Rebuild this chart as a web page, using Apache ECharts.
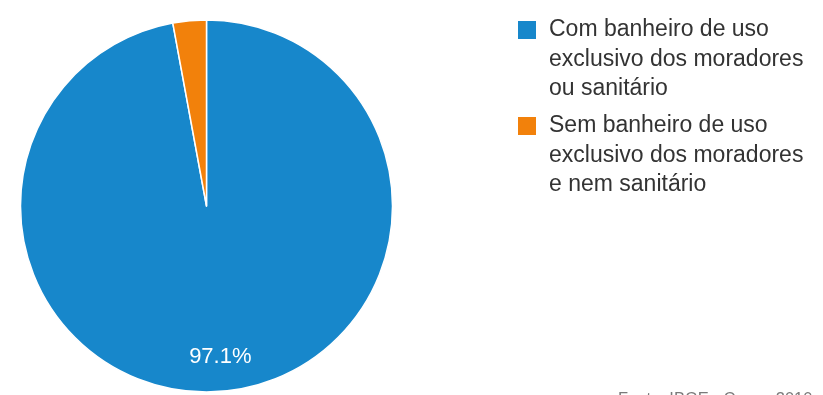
<!DOCTYPE html>
<html>
<head>
<meta charset="utf-8">
<script src="https://cdn.jsdelivr.net/npm/echarts@6/dist/echarts.min.js"></script>
<style>
  html, body { margin: 0; padding: 0; background: #ffffff; }
  #chart { width: 823px; height: 395px; }
</style>
</head>
<body>
<div id="chart"></div>
<script>
// Domicílios por existência de banheiro (percentual)
const categories = [
  'Com banheiro de uso exclusivo dos moradores ou sanitário',
  'Sem banheiro de uso exclusivo dos moradores e nem sanitário'
];
const shares = [97.1, 2.9];
const legendLines = [
  ['Com banheiro de uso', 'exclusivo dos moradores', 'ou sanitário'],
  ['Sem banheiro de uso', 'exclusivo dos moradores', 'e nem sanitário']
];
const colors = ['#1787cb', '#f2810b'];
const sourceNote = 'Fonte: IBGE - Censo 2010';

const FONT = '"Liberation Sans", Arial, sans-serif';
const pieData = categories.map((name, i) => ({ name, value: shares[i] }));

// Legend text is vertically centred on its swatch; two leading blank lines
// make the first text line sit level with the swatch.
const LEG_FONT = 23, LEG_LH = 29.5, ICON = 20;
function legendFor(i, iconTop) {
  return {
    data: [categories[i]],
    left: 516,
    top: iconTop + ICON / 2 - 2.5 * LEG_LH,
    padding: 0,
    icon: 'rect',
    itemWidth: ICON,
    itemHeight: ICON,
    selectedMode: false,
    formatter: () => '\n\n' + legendLines[i].join('\n'),
    textStyle: {
      fontFamily: FONT,
      fontSize: LEG_FONT,
      lineHeight: LEG_LH,
      color: '#333333',
      padding: [0, 0, 0, 7]
    }
  };
}

const chart = echarts.init(document.getElementById('chart'), null, { renderer: 'canvas' });
chart.setOption({
  backgroundColor: '#ffffff',
  animation: false,
  color: colors,
  title: {
    text: sourceNote,
    left: 618,
    top: 391,
    padding: 0,
    textStyle: { fontFamily: FONT, fontSize: 16.5, fontWeight: 'normal', color: '#7a7a7a' }
  },
  legend: [legendFor(0, 20), legendFor(1, 116)],
  series: [
    {
      type: 'pie',
      center: [206.5, 206],
      radius: [0, 186],
      startAngle: 90,
      clockwise: true,
      silent: true,
      label: { show: false },
      labelLine: { show: false },
      itemStyle: { borderColor: '#ffffff', borderWidth: 1.5 },
      data: pieData
    },
    {
      // transparent ring used only to place the percentage labels
      type: 'pie',
      center: [206.5, 206],
      radius: [112, 186],
      startAngle: 90,
      clockwise: true,
      silent: true,
      percentPrecision: 1,
      itemStyle: { color: 'rgba(0,0,0,0)', borderWidth: 0 },
      label: {
        show: true,
        position: 'inside',
        fontFamily: FONT,
        fontSize: 22,
        color: '#ffffff',
        formatter: p => (p.percent >= 5 ? p.percent.toFixed(1) + '%' : '')
      },
      labelLine: { show: false },
      data: pieData
    }
  ]
});
</script>
</body>
</html>
